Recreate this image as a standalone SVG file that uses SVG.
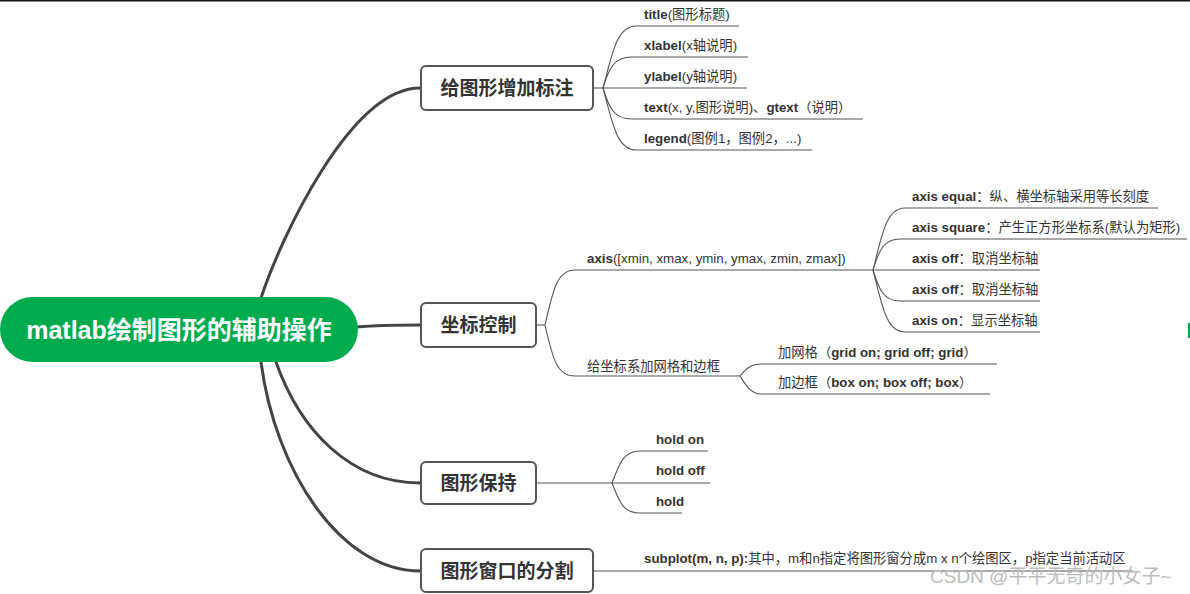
<svg xmlns="http://www.w3.org/2000/svg" width="1190" height="594" viewBox="0 0 1190 594">
<style>
text{font-family:"Liberation Sans","Noto Sans CJK SC",sans-serif;fill:#333}
.leaf{font-size:13.3px}
.b{font-weight:bold}
.box{fill:#fff;stroke:#555;stroke-width:2}
.bt{font-size:19px;font-weight:bold;text-anchor:middle}
.main{fill:none;stroke:#444;stroke-width:3;stroke-linecap:round}
.thin{fill:none;stroke:#555;stroke-width:1.1}
</style>
<rect x="0" y="0" width="1190" height="1.5" fill="#111"/>
<g id="connectors">
<path class="main" d="M261,298 C280,240 350,88 420,88"/>
<path class="main" d="M357,327 C380,325 400,325 420,325"/>
<path class="main" d="M276,362 C300,430 350,483 420,483"/>
<path class="main" d="M261,362 C275,470 340,571 420,571"/>
<path class="thin" d="M593,88 H603"/>
<path class="thin" d="M603,88 C612,56 616,26 636,26 H739"/>
<path class="thin" d="M603,88 C609,68 614,57 632,57 H748"/>
<path class="thin" d="M603,88 H747"/>
<path class="thin" d="M603,88 C609,108 614,119 632,119 H863"/>
<path class="thin" d="M603,88 C612,120 616,150 636,150 H812"/>
<path class="thin" d="M536,325 H545"/>
<path class="thin" d="M545,325 C553,290 557,270 575,270 H873"/>
<path class="thin" d="M545,325 C553,360 557,376 575,376 H740"/>
<path class="thin" d="M873,270 C882,235 886,208 905,208 H1158"/>
<path class="thin" d="M873,270 C879,250 884,239 900,239 H1187"/>
<path class="thin" d="M873,270 H1040"/>
<path class="thin" d="M873,270 C879,290 884,301 900,301 H1040"/>
<path class="thin" d="M873,270 C882,305 886,332 905,332 H1040"/>
<path class="thin" d="M740,376 C746,369 750,364 762,364 H997"/>
<path class="thin" d="M740,376 C746,385 750,394 762,394 H990"/>
<path class="thin" d="M536,483 H612"/>
<path class="thin" d="M612,483 C620,462 624,451 640,451 H708"/>
<path class="thin" d="M612,483 H710"/>
<path class="thin" d="M612,483 C620,504 624,513 640,513 H682"/>
<path class="thin" d="M593,571 H1133"/>
</g>
<g id="root">
<rect x="0" y="297" width="358" height="65" rx="32.5" fill="#00AB4E"/>
<text x="179" y="339" text-anchor="middle" font-size="25" font-weight="bold" style="fill:#fff">matlab绘制图形的辅助操作</text>
</g>
<g id="n1">
<rect class="box" x="421" y="66" width="172" height="44" rx="5"/>
<text class="bt" x="507" y="95">给图形增加标注</text>
</g>
<g id="n1-leaves">
<text class="leaf" x="644" y="19"><tspan class="b">title</tspan>(图形标题)</text>
<text class="leaf" x="644" y="50"><tspan class="b">xlabel</tspan>(x轴说明)</text>
<text class="leaf" x="644" y="81"><tspan class="b">ylabel</tspan>(y轴说明)</text>
<text class="leaf" x="644" y="112"><tspan class="b">text</tspan>(x, y,图形说明)、<tspan class="b">gtext</tspan>（说明）</text>
<text class="leaf" x="644" y="143"><tspan class="b">legend</tspan>(图例1，图例2，...)</text>
</g>
<g id="n2">
<rect class="box" x="421" y="303" width="115" height="44" rx="5"/>
<text class="bt" x="478.5" y="332">坐标控制</text>
</g>
<g id="n2-leaves">
<text class="leaf" x="587" y="263"><tspan class="b">axis</tspan>([xmin, xmax, ymin, ymax, zmin, zmax])</text>
<text class="leaf" x="912" y="201"><tspan class="b">axis equal</tspan>：纵、横坐标轴采用等长刻度</text>
<text class="leaf" x="912" y="232"><tspan class="b">axis square</tspan>：产生正方形坐标系(默认为矩形)</text>
<text class="leaf" x="912" y="263"><tspan class="b">axis off</tspan>：取消坐标轴</text>
<text class="leaf" x="912" y="294"><tspan class="b">axis off</tspan>：取消坐标轴</text>
<text class="leaf" x="912" y="325"><tspan class="b">axis on</tspan>：显示坐标轴</text>
<text class="leaf" x="587" y="371">给坐标系加网格和边框</text>
<text class="leaf" x="778" y="357">加网格（<tspan class="b">grid on; grid off; grid</tspan>）</text>
<text class="leaf" x="778" y="387">加边框（<tspan class="b">box on; box off; box</tspan>）</text>
</g>
<g id="n3">
<rect class="box" x="421" y="462" width="115" height="42" rx="5"/>
<text class="bt" x="478.5" y="490">图形保持</text>
</g>
<g id="n3-leaves">
<text class="leaf b" x="656" y="444">hold on</text>
<text class="leaf b" x="656" y="475">hold off</text>
<text class="leaf b" x="656" y="506">hold</text>
</g>
<g id="n4">
<rect class="box" x="421" y="549" width="172" height="43" rx="5"/>
<text class="bt" x="507" y="578">图形窗口的分割</text>
</g>
<g id="n4-leaves">
<text class="leaf" x="644" y="563"><tspan class="b">subplot(m, n, p):</tspan>其中，m和n指定将图形窗分成m x n个绘图区，p指定当前活动区</text>
</g>
<text x="930" y="583" font-size="19" style="fill:#bdbdbd">CSDN @平平无奇的小女子~</text>
<rect x="1188" y="323" width="2" height="15" fill="#00AB4E"/>
</svg>
